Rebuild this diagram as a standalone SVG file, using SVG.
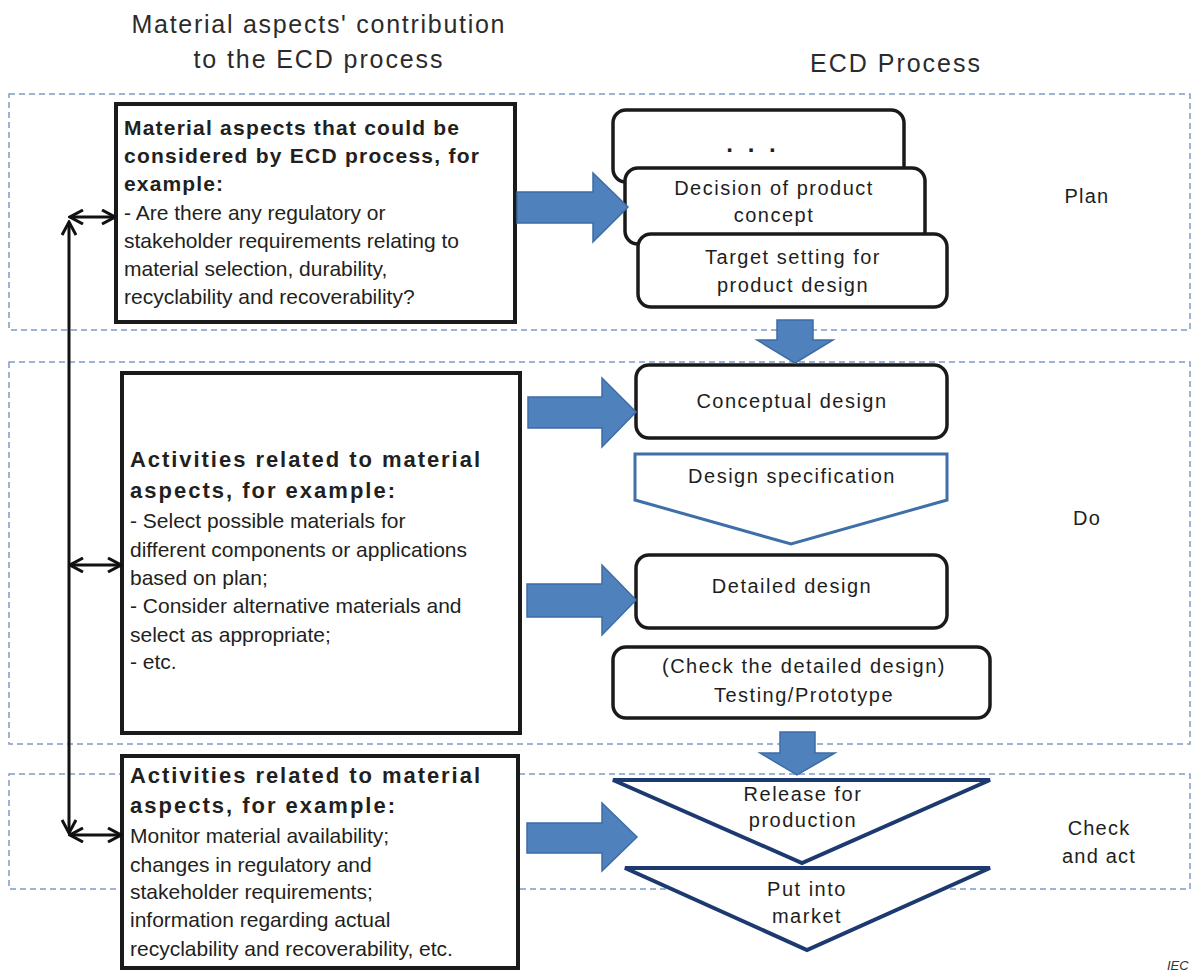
<svg xmlns="http://www.w3.org/2000/svg" width="1197" height="971" viewBox="0 0 1197 971">
<style>
  .region { fill: none; stroke: #7f9cc4; stroke-width: 1.5; stroke-dasharray: 6 4; }
  .box { fill: #ffffff; stroke: #1a1a1a; stroke-width: 4; }
  .rbox { fill: #ffffff; stroke: #1a1a1a; stroke-width: 3.5; }
  .spec { fill: #ffffff; stroke: #3f6fa8; stroke-width: 3; }
  .tri { fill: #ffffff; stroke: #1c3a70; stroke-width: 4; stroke-linejoin: miter; }
  .blue { fill: #4f81bd; stroke: #3d6ca6; stroke-width: 1.5; }
  .link { fill: none; stroke: #111111; stroke-width: 3; }
  .title { font-family: "Liberation Sans", Arial, sans-serif; font-size: 25px; fill: #2b2b2b; }
  .b21 { font-family: "Liberation Sans", Arial, sans-serif; font-size: 21px; font-weight: bold; fill: #231f20; }
  .b22 { font-family: "Liberation Sans", Arial, sans-serif; font-size: 22px; font-weight: bold; fill: #231f20; }
  .r21 { font-family: "Liberation Sans", Arial, sans-serif; font-size: 21px; fill: #231f20; }
  .lbl { font-family: "Liberation Sans", Arial, sans-serif; font-size: 20px; letter-spacing: 1.5px; fill: #1e1e1e; text-anchor: middle; }
  .phase { font-family: "Liberation Sans", Arial, sans-serif; font-size: 20px; letter-spacing: 1.2px; fill: #1e1e1e; text-anchor: middle; }
</style>
<defs>
  <marker id="open" viewBox="0 0 16 16" refX="14" refY="8" markerWidth="16" markerHeight="16" markerUnits="userSpaceOnUse" orient="auto-start-reverse">
    <path d="M1,1 L14,8 L1,15" fill="none" stroke="#111111" stroke-width="3" stroke-linejoin="miter"/>
  </marker>
</defs>

<g id="titles">
  <text class="title" x="318" y="33" text-anchor="middle" textLength="373" lengthAdjust="spacing">Material aspects' contribution</text>
  <text class="title" x="318" y="68" text-anchor="middle" textLength="249" lengthAdjust="spacing">to the ECD process</text>
  <text class="title" x="895" y="72" text-anchor="middle" textLength="170" lengthAdjust="spacing">ECD Process</text>
</g>

<g id="regions">
  <rect id="region-plan" class="region" x="9" y="94" width="1181" height="236"/>
  <rect id="region-do" class="region" x="9" y="362" width="1181" height="382"/>
  <rect id="region-check" class="region" x="9" y="774" width="1181" height="115"/>
  <text class="phase" x="1087" y="203">Plan</text>
  <text class="phase" x="1087" y="525">Do</text>
  <text class="phase" x="1099" y="835">Check</text>
  <text class="phase" x="1099" y="863">and act</text>
</g>

<g id="node-material-aspects">
  <rect class="box" x="116" y="104" width="399" height="218"/>
  <text class="b21" x="124" y="135" textLength="335" lengthAdjust="spacing">Material aspects that could be</text>
  <text class="b21" x="124" y="163" textLength="355" lengthAdjust="spacing">considered by ECD process, for</text>
  <text class="b21" x="124" y="191" textLength="99" lengthAdjust="spacing">example:</text>
  <text class="r21" x="124" y="220">- Are there any regulatory or</text>
  <text class="r21" x="124" y="248">stakeholder requirements relating to</text>
  <text class="r21" x="124" y="276">material selection, durability,</text>
  <text class="r21" x="124" y="304">recyclability and recoverability?</text>
</g>

<g id="node-activities-do">
  <rect class="box" x="122" y="373" width="398" height="360"/>
  <text class="b22" x="130" y="467" textLength="350" lengthAdjust="spacing">Activities related to material</text>
  <text class="b22" x="130" y="498" textLength="265" lengthAdjust="spacing">aspects, for example:</text>
  <text class="r21" x="130" y="528">- Select possible materials for</text>
  <text class="r21" x="130" y="557">different components or applications</text>
  <text class="r21" x="130" y="585">based on plan;</text>
  <text class="r21" x="130" y="613">- Consider alternative materials and</text>
  <text class="r21" x="130" y="642">select as appropriate;</text>
  <text class="r21" x="130" y="669">- etc.</text>
</g>

<g id="node-activities-check">
  <rect class="box" x="122" y="756" width="396" height="212"/>
  <text class="b22" x="130" y="783" textLength="350" lengthAdjust="spacing">Activities related to material</text>
  <text class="b22" x="130" y="813" textLength="265" lengthAdjust="spacing">aspects, for example:</text>
  <text class="r21" x="130" y="843">Monitor material availability;</text>
  <text class="r21" x="130" y="872">changes in regulatory and</text>
  <text class="r21" x="130" y="899">stakeholder requirements;</text>
  <text class="r21" x="130" y="927">information regarding actual</text>
  <text class="r21" x="130" y="956">recyclability and recoverability, etc.</text>
</g>

<g id="node-ellipsis">
  <rect class="rbox" x="613" y="110" width="291" height="72" rx="13"/>
  <text x="753" y="152" text-anchor="middle" font-family="Liberation Sans, Arial, sans-serif" font-size="24" font-weight="bold" fill="#1e1e1e" letter-spacing="4">. . .</text>
</g>

<g id="node-decision">
  <rect class="rbox" x="625" y="168" width="300" height="76" rx="13"/>
  <text class="lbl" x="774" y="195">Decision of product</text>
  <text class="lbl" x="774" y="222">concept</text>
</g>

<g id="node-target">
  <rect class="rbox" x="638" y="234" width="309" height="73" rx="13"/>
  <text class="lbl" x="793" y="264">Target setting for</text>
  <text class="lbl" x="793" y="292">product design</text>
</g>

<g id="node-conceptual">
  <rect class="rbox" x="636" y="365" width="311" height="73" rx="13"/>
  <text class="lbl" x="792" y="408">Conceptual design</text>
</g>

<g id="node-design-spec">
  <polygon class="spec" points="635,454 947,454 947,500 791,544 635,500"/>
  <text class="lbl" x="792" y="483">Design specification</text>
</g>

<g id="node-detailed">
  <rect class="rbox" x="636" y="555" width="311" height="73" rx="13"/>
  <text class="lbl" x="792" y="593">Detailed design</text>
</g>

<g id="node-testing">
  <rect class="rbox" x="613" y="647" width="377" height="71" rx="13"/>
  <text class="lbl" x="804" y="673">(Check the detailed design)</text>
  <text class="lbl" x="804" y="702">Testing/Prototype</text>
</g>

<g id="node-release">
  <polygon class="tri" points="613,780 990,780 802,863"/>
  <text class="lbl" x="803" y="801">Release for</text>
  <text class="lbl" x="803" y="827">production</text>
</g>

<g id="node-market">
  <polygon class="tri" points="625,868 990,868 807,950"/>
  <text class="lbl" x="807" y="896">Put into</text>
  <text class="lbl" x="807" y="923">market</text>
</g>

<g id="connectors">
  <polygon class="blue" points="517,192 593,192 593,173 628,207 593,242 593,223 517,223"/>
  <polygon class="blue" points="528,397 602,397 602,378 636,412 602,447 602,428 528,428"/>
  <polygon class="blue" points="527,584 602,584 602,565 636,600 602,635 602,617 527,617"/>
  <polygon class="blue" points="527,823 602,823 602,803 637,837 602,871 602,853 527,853"/>
  <polygon class="blue" points="777,320 813,320 813,340 833,340 795,363 757,340 777,340"/>
  <polygon class="blue" points="780,732 815,732 815,753 835,753 797,775 760,753 780,753"/>
  <line class="link" x1="69" y1="833" x2="69" y2="222" marker-start="url(#open)" marker-end="url(#open)"/>
  <line class="link" x1="70" y1="217" x2="115" y2="217" marker-start="url(#open)" marker-end="url(#open)"/>
  <line class="link" x1="70" y1="565" x2="121" y2="565" marker-start="url(#open)" marker-end="url(#open)"/>
  <line class="link" x1="70" y1="835" x2="121" y2="835" marker-start="url(#open)" marker-end="url(#open)"/>
</g>

<text x="1167" y="970" font-family="Liberation Sans, Arial, sans-serif" font-size="13" font-style="italic" fill="#333333">IEC</text>
</svg>
